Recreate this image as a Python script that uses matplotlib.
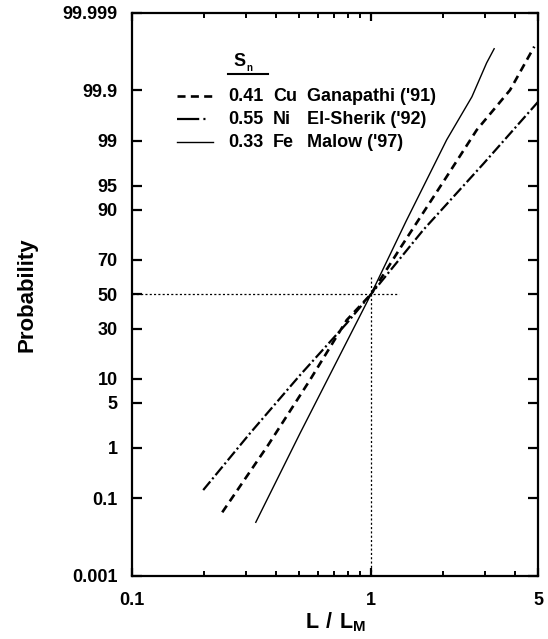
import numpy as np
import matplotlib
matplotlib.use("Agg")
import matplotlib.pyplot as plt
from matplotlib.ticker import FixedLocator, NullFormatter, FixedFormatter
from statistics import NormalDist

plt.rcParams['font.family'] = ['Liberation Sans', 'DejaVu Sans']
plt.rcParams['font.weight'] = 'bold'
plt.rcParams['lines.scale_dashes'] = False
plt.rcParams['mathtext.fontset'] = 'custom'
plt.rcParams['mathtext.bf'] = 'Liberation Sans:bold'
plt.rcParams['mathtext.rm'] = 'Liberation Sans:bold'
plt.rcParams.update({
    'xtick.direction': 'in', 'ytick.direction': 'in',
    'xtick.top': True, 'xtick.bottom': True,
    'ytick.left': True, 'ytick.right': True,
    'xtick.major.size': 6, 'xtick.major.width': 1.6,
    'xtick.minor.size': 3.8, 'xtick.minor.width': 1.4,
    'ytick.major.size': 7, 'ytick.major.width': 1.6,
    'xtick.color': 'black', 'ytick.color': 'black',
    'xtick.labelsize': 13, 'ytick.labelsize': 13,
    'xtick.major.pad': 12, 'ytick.major.pad': 10,
})

# ---- data ----
cu_x = [0.239, 0.372, 0.556, 0.792, 1.0, 1.343, 2.07, 2.765, 3.81, 4.81]
cu_p = [0.0475, 1.12, 9.7, 34.8, 50, 76.8, 96.25, 99.358, 99.901, 99.9912]

ni_x = [0.199, 0.312, 0.505, 0.792, 1.0, 1.654, 2.95, 4.98]
ni_p = [0.15, 1.75, 11.0, 33.0, 50, 83.5, 97.6, 99.82]

fe_x = [0.330, 0.505, 1.0, 1.40, 2.07, 2.64, 3.04, 3.27]
fe_p = [0.0274, 1.75, 50, 86.5, 99.03, 99.861, 99.977, 99.990]

sn_values = ["0.41", "0.55", "0.33"]
metals = ["Cu", "Ni", "Fe"]
authors = ["Ganapathi ('91)", "El-Sherik ('92)", "Malow ('97)"]

y_ticks = [0.001, 0.1, 1, 5, 10, 30, 50, 70, 90, 95, 99, 99.9, 99.999]
y_ticklabels = ["0.001", "0.1", "1", "5", "10", "30", "50", "70", "90", "95", "99", "99.9", "99.999"]
x_ticks = [0.1, 1, 5]
x_ticklabels = ["0.1", "1", "5"]
x_minor = [0.2, 0.3, 0.4, 0.5, 0.6, 0.7, 0.8, 0.9, 2, 3, 4]

ref_h_x = [0.1, 1.31]
ref_h_p = [50, 50]
ref_v_x = [1, 1]
ref_v_p = [0.001, 60]

# ---- probability scale ----
_nd = NormalDist()
_ppf = np.vectorize(lambda q: _nd.inv_cdf(q) if np.isfinite(q) else np.nan, otypes=[float])
_cdf = np.vectorize(lambda z: _nd.cdf(z) if np.isfinite(z) else np.nan, otypes=[float])

def fwd(p):
    p = np.clip(np.asarray(p, dtype=float) / 100.0, 1e-15, 1 - 1e-15)
    return _ppf(p)

def inv(z):
    return _cdf(np.asarray(z, dtype=float)) * 100.0

fig = plt.figure(figsize=(5.48, 6.39), dpi=100)
ax = fig.add_axes([0.2403, 0.0991, 0.742, 0.881])
ax.set_xscale('log')
ax.set_yscale('function', functions=(fwd, inv))
ax.set_xlim(0.1, 5)
ax.set_ylim(0.001, 99.999)

# reference dotted lines
ax.plot(ref_h_x, ref_h_p, color='black', lw=0.9, dashes=(1.5, 1.6))
ax.plot(ref_v_x, ref_v_p, color='black', lw=0.9, dashes=(1.5, 1.6))

# data lines
ax.plot(cu_x, cu_p, color='black', lw=1.9, dashes=(5.8, 3.8))
ax.plot(ni_x, ni_p, color='black', lw=1.6, dashes=(8, 2.2, 1.5, 2.2))
ax.plot(fe_x, fe_p, color='black', lw=1.0, linestyle='-')

# ticks
ax.yaxis.set_major_locator(FixedLocator(y_ticks))
ax.yaxis.set_major_formatter(FixedFormatter(y_ticklabels))
ax.yaxis.set_minor_locator(FixedLocator([]))
ax.xaxis.set_major_locator(FixedLocator(x_ticks))
ax.xaxis.set_major_formatter(FixedFormatter(x_ticklabels))
ax.xaxis.set_minor_locator(FixedLocator(x_minor))
ax.xaxis.set_minor_formatter(NullFormatter())

for sp in ax.spines.values():
    sp.set_linewidth(1.6)

ax.set_ylabel('Probability', fontsize=16, fontweight='bold', labelpad=18)
ax.set_xlabel(r'$\mathbf{L\ /\ L_M}$', fontsize=15.5, labelpad=1)

# manual legend
T = ax.transAxes
ax.text(0.2491, 0.9142, 'S', transform=T, fontsize=13, fontweight='bold',
        ha='left', va='center')
ax.text(0.2820, 0.9020, 'n', transform=T, fontsize=7, fontweight='bold',
        ha='left', va='center')
ax.plot([0.2368, 0.3352], [0.8911, 0.8911], transform=T, color='black', lw=1.5)

rows_y = [0.8520, 0.8110, 0.7700]
sample_styles = [dict(lw=1.9, dashes=(5.8, 3.8)),
                 dict(lw=1.6, dashes=(16, 3, 1.5, 12)),
                 dict(lw=1.0, linestyle='-')]
for yy, sv, m, a, st in zip(rows_y, sn_values, metals, authors, sample_styles):
    ax.plot([0.1115, 0.2000], [yy, yy], transform=T, color='black', **st)
    ax.text(0.2368, yy, sv, transform=T, fontsize=13, fontweight='bold',
            ha='left', va='center')
    ax.text(0.3475, yy, m, transform=T, fontsize=13, fontweight='bold',
            ha='left', va='center')
    ax.text(0.4311, yy, a, transform=T, fontsize=13, fontweight='bold',
            ha='left', va='center')

fig.savefig('out.png', dpi=100)
